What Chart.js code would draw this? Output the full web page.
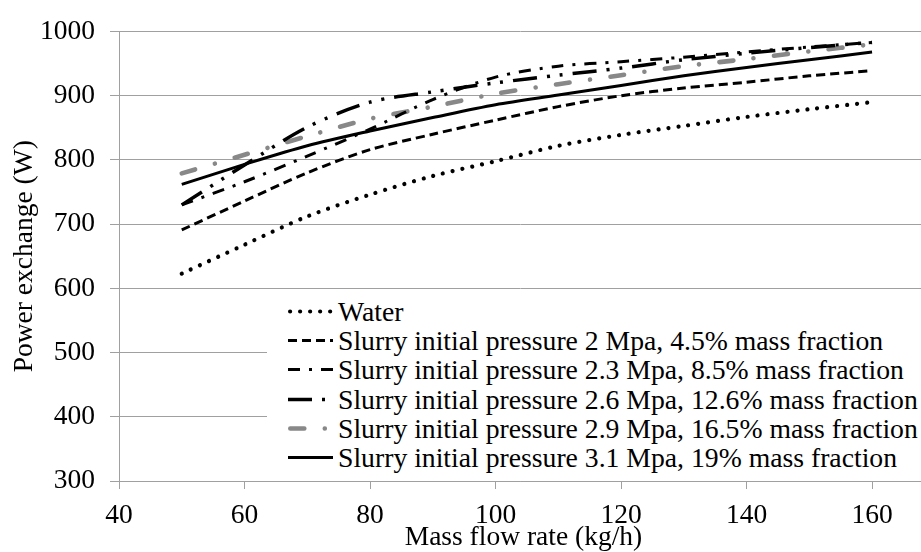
<!DOCTYPE html>
<html><head><meta charset="utf-8">
<script src="https://cdn.jsdelivr.net/npm/chart.js@4.4.1/dist/chart.umd.min.js"></script>
<style>
html,body{margin:0;padding:0;background:#fff;}
#wrap{position:relative;width:921px;height:552px;}
#legend{position:absolute;left:267px;top:296px;width:654px;height:183px;background:#fff;font-family:"Liberation Serif","Times New Roman",serif;font-size:27.7px;color:#000;padding-top:1px;box-sizing:border-box;}
.row{height:29.2px;line-height:29.2px;white-space:nowrap;display:flex;align-items:center;}
.row svg{margin-left:21px;margin-right:5px;flex:none;}
</style></head><body>
<div id="wrap"><canvas id="c" width="921" height="552"></canvas><div id="legend"></div></div>
<script>
// ---- data ----
const massFlow = [50, 60, 70, 80, 90, 100, 110, 120, 130, 140, 150, 160];
const water    = [623, 668, 712, 746, 775, 798, 822, 839, 853, 867, 879, 890];
const slurry20 = [691, 736, 780, 816, 840, 862, 883, 900, 912, 921, 931, 939];
const slurry23 = [730, 766, 806, 848, 894, 929, 946, 953, 960, 968, 976, 983];
const slurry26 = [730, 792, 851, 890, 906, 920, 932, 943, 956, 966, 975, 983];
const slurry29 = [779, 808, 837, 864, 883, 903, 918, 932, 946, 957, 969, 980];
const slurry31 = [762, 793, 822, 845, 866, 886, 901, 916, 931, 944, 956, 968];
const seriesLabels = [
  'Water',
  'Slurry initial pressure 2 Mpa, 4.5% mass fraction',
  'Slurry initial pressure 2.3 Mpa, 8.5% mass fraction',
  'Slurry initial pressure 2.6 Mpa, 12.6% mass fraction',
  'Slurry initial pressure 2.9 Mpa, 16.5% mass fraction',
  'Slurry initial pressure 3.1 Mpa, 19% mass fraction'
];
const xTicks = [40, 60, 80, 100, 120, 140, 160];
const yTicks = [300, 400, 500, 600, 700, 800, 900, 1000];

const FONT = "'Liberation Serif', 'Times New Roman', serif";
Chart.defaults.font.family = FONT;
Chart.defaults.font.size = 27.5;
Chart.defaults.color = '#000';
const tickFont = {family: FONT, size: 27.5};

const pts = arr => massFlow.map((x, i) => ({x: x, y: arr[i]}));
const base = {pointRadius: 0, tension: 0.3, fill: false};

const datasets = [
  Object.assign({label: seriesLabels[0], data: pts(water), borderColor: '#000', borderWidth: 4.2, borderDash: [0.01, 10], borderCapStyle: 'round'}, base),
  Object.assign({label: seriesLabels[1], data: pts(slurry20), borderColor: '#000', borderWidth: 3, borderDash: [9, 5], borderCapStyle: 'butt'}, base),
  Object.assign({label: seriesLabels[2], data: pts(slurry23), borderColor: '#000', borderWidth: 3, borderDash: [12, 9, 3, 9], borderCapStyle: 'butt'}, base),
  Object.assign({label: seriesLabels[3], data: pts(slurry26), borderColor: '#000', borderWidth: 3.5, borderDash: [24, 10, 3, 10, 3, 10], borderCapStyle: 'butt'}, base),
  Object.assign({label: seriesLabels[4], data: pts(slurry29), borderColor: '#888888', borderWidth: 4.6, borderDash: [14, 20.5, 0.01, 20.5], borderCapStyle: 'round'}, base),
  Object.assign({label: seriesLabels[5], data: pts(slurry31), borderColor: '#000', borderWidth: 3, borderDash: [], borderCapStyle: 'butt'}, base)
];

const GRID = '#a0a0a0';
const chart = new Chart(document.getElementById('c'), {
  type: 'line',
  data: {datasets: datasets},
  options: {
    responsive: false, animation: false, devicePixelRatio: 1,
    layout: {padding: {top: 24, left: 0, right: 0, bottom: 0}},
    plugins: {legend: {display: false}, tooltip: {enabled: false}},
    scales: {
      x: {
        type: 'linear', min: 40, max: 167.8,
        afterBuildTicks: s => { s.ticks = xTicks.map(v => ({value: v})); },
        afterFit: s => { s.height = 71; },
        ticks: {padding: 10, maxRotation: 0, autoSkip: false, font: tickFont, color: '#000', callback: v => String(v)},
        grid: {drawOnChartArea: false, drawTicks: true, tickLength: 8, color: GRID, lineWidth: 1},
        border: {display: true, color: GRID, width: 1},
        title: {display: true, text: '\u00a0Mass flow rate (kg/h)', color: '#000', font: {family: FONT, size: 27.5, lineHeight: 1.0}, padding: {top: 0, bottom: 0}}
      },
      y: {
        min: 300, max: 1000,
        afterBuildTicks: s => { s.ticks = yTicks.map(v => ({value: v})); },
        afterFit: s => { s.width = 119; },
        ticks: {padding: 15, font: tickFont, color: '#000', callback: v => String(v)},
        grid: {color: GRID, tickLength: 9, lineWidth: 1},
        border: {display: true, color: GRID, width: 1},
        title: {display: true, text: 'Power exchange (W)', color: '#000', font: {family: FONT, size: 27.5}, padding: {top: 8, bottom: 0}}
      }
    }
  }
});

// HTML legend built from the chart's datasets
const leg = document.getElementById('legend');
chart.data.datasets.forEach(ds => {
  const row = document.createElement('div');
  row.className = 'row';
  const ns = 'http://www.w3.org/2000/svg';
  const svg = document.createElementNS(ns, 'svg');
  svg.setAttribute('width', '45'); svg.setAttribute('height', '29');
  const ln = document.createElementNS(ns, 'line');
  const cap = ds.borderCapStyle || 'butt';
  const off = cap === 'round' ? ds.borderWidth / 2 : 0;
  ln.setAttribute('x1', off); ln.setAttribute('x2', 45 - off);
  ln.setAttribute('y1', '14.5'); ln.setAttribute('y2', '14.5');
  ln.setAttribute('stroke', ds.borderColor);
  ln.setAttribute('stroke-width', ds.borderWidth);
  ln.setAttribute('stroke-linecap', cap);
  if (ds.borderDash && ds.borderDash.length) ln.setAttribute('stroke-dasharray', ds.borderDash.join(' '));
  svg.appendChild(ln);
  const span = document.createElement('span');
  span.textContent = ds.label;
  row.appendChild(svg); row.appendChild(span);
  leg.appendChild(row);
});
</script>
</body></html>
